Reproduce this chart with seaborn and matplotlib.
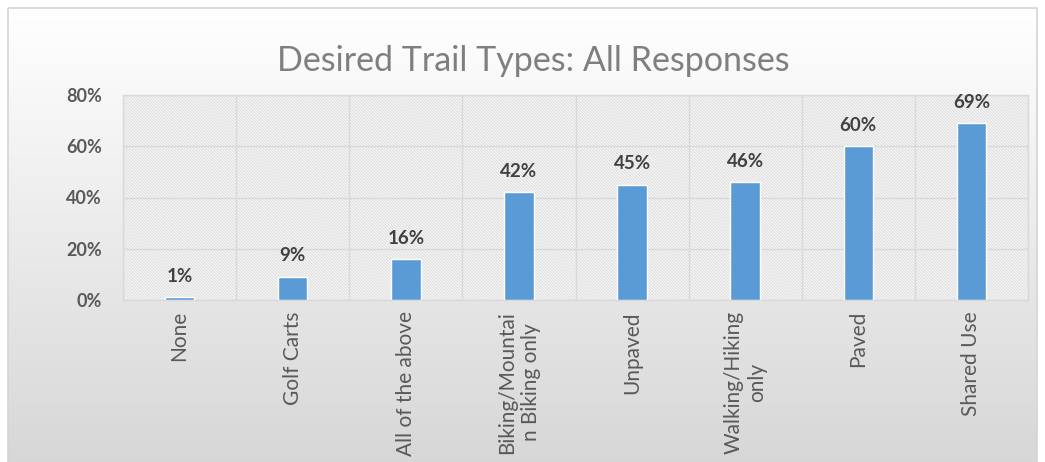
import numpy as np
import pandas as pd
import matplotlib
matplotlib.use("Agg")
import matplotlib.pyplot as plt
import seaborn as sns
from matplotlib.patches import Rectangle
from matplotlib.ticker import FixedLocator, FuncFormatter

# Survey results
categories = ["None", "Golf Carts", "All of the above", "Biking/Mountai\nn Biking only",
              "Unpaved", "Walking/Hiking\nonly", "Paved", "Shared Use"]
shares = [1, 9, 16, 42, 45, 46, 60, 69]
y_ticks = [0, 20, 40, 60, 80]
title = "Desired Trail Types: All Responses"

sns.set_theme(style="white")
plt.rcParams["font.family"] = ["Lato", "DejaVu Sans"]
plt.rcParams["hatch.linewidth"] = 1.0
plt.rcParams["hatch.color"] = "#e0e0e0"

W, H = 1045, 462
fig = plt.figure(figsize=(W / 100, H / 100), dpi=100)
fig.patch.set_facecolor("white")

# chart panel: vertical white-to-gray gradient with a thin frame
bg = fig.add_axes([0, 0, 1, 1], zorder=0)
bg.set_xlim(0, W)
bg.set_ylim(H, 0)
bg.axis("off")
grad = np.linspace(1.0, 0.84, 256)[:, None]
bg.imshow(np.dstack([grad, grad, grad]), extent=(8, 1037, 470, 8), aspect="auto",
          interpolation="bilinear")
bg.add_patch(Rectangle((8, 8), 1029, 470, fill=False, edgecolor="#d4d4d4", lw=1.2))

# plot area
x0, x1, ytop, ybot = 123, 1028, 95, 300
ax = fig.add_axes([x0 / W, 1 - ybot / H, (x1 - x0) / W, (ybot - ytop) / H], zorder=1)
ax.patch.set_alpha(0)
ax.add_patch(Rectangle((0, 0), 1, 1, transform=ax.transAxes, facecolor="white",
                       edgecolor="#e0e0e0", hatch="\\" * 11, lw=0, zorder=0))

df = pd.DataFrame({"trail": categories, "share": shares})
sns.barplot(data=df, x="trail", y="share", color="#5b9bd5", width=0.26,
            saturation=1, ax=ax, zorder=3)

ax.set_xlim(-0.5, len(categories) - 0.5)
ax.set_ylim(0, 80)
ax.yaxis.set_major_locator(FixedLocator(y_ticks))
ax.yaxis.set_major_formatter(FuncFormatter(lambda v, p: f"{v:.0f}%"))
ax.set_xticks(np.arange(-0.5, len(categories)), minor=True)
ax.grid(axis="y", which="major", color="#d9d9d9", lw=1, zorder=1)
ax.grid(axis="x", which="minor", color="#d9d9d9", lw=1, zorder=1)
ax.set_axisbelow(True)
for s in ax.spines.values():
    s.set_color("#d9d9d9")
    s.set_linewidth(1)
ax.tick_params(axis="both", which="both", length=0)
ax.tick_params(axis="y", pad=15, labelsize=13, labelcolor="#595959")
ax.tick_params(axis="x", pad=8, labelsize=15, labelcolor="#595959")
for lab in ax.get_yticklabels():
    lab.set_fontweight("bold")
ax.set_xticks(range(len(categories)))
ax.set_xticklabels(categories, rotation=90, ha="center", va="top", multialignment="center")
ax.set_xlabel("")
ax.set_ylabel("")

ax.bar_label(ax.containers[0], labels=[f"{v}%" for v in shares], padding=9,
             fontsize=13.5, fontweight="bold", color="#404040")

fig.text(533 / W, 1 - 61 / H, title, ha="center", va="center", fontsize=24.5,
         color="#7f7f7f", fontweight="normal")

fig.savefig("out.png", dpi=100)
